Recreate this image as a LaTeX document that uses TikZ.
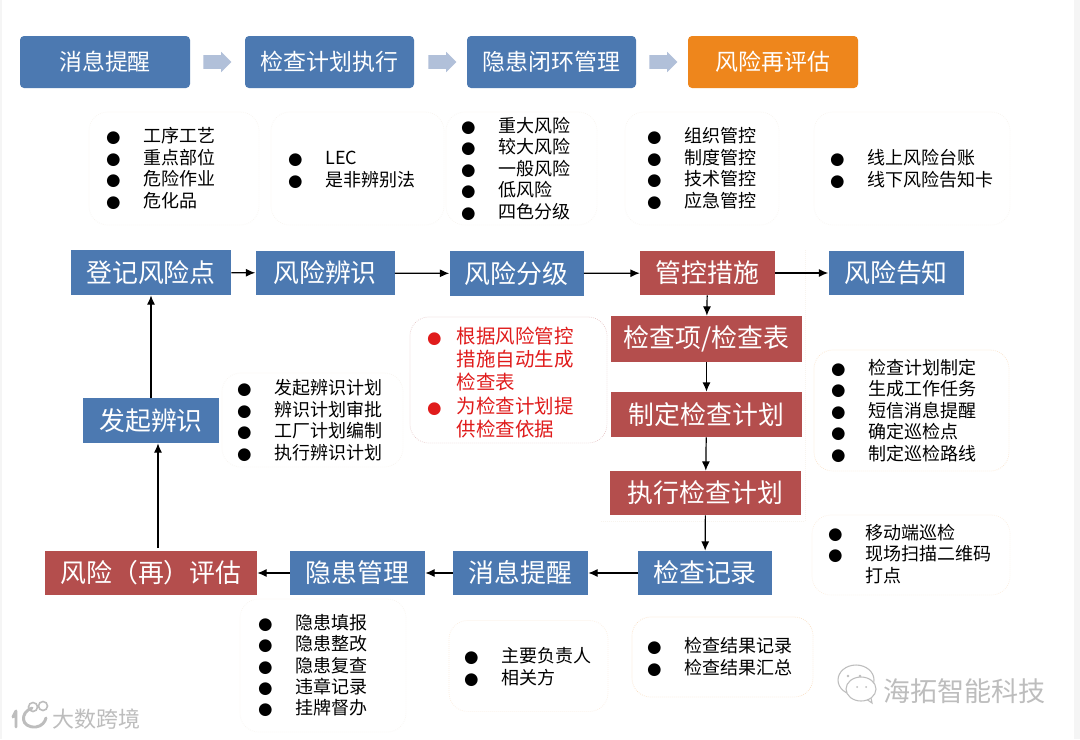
\documentclass[tikz,border=0pt]{standalone}
\usepackage{fontspec}
\setmainfont{Noto Sans CJK SC}
\newfontfamily\dotfont{DejaVu Sans}
\usetikzlibrary{shapes.arrows,arrows.meta}
\definecolor{riskblue}{HTML}{4C79B1}
\definecolor{riskred}{HTML}{B44E4D}
\definecolor{riskorange}{HTML}{EE861C}
\definecolor{blockblue}{HTML}{B1C0D9}
\definecolor{alertred}{HTML}{E01B1B}
\definecolor{paneledge}{HTML}{F8F4EE}
\definecolor{markgray}{HTML}{BDBDBD}
\newcommand{\dotitem}{\makebox[22.5pt][l]{\hspace{-5.3pt}{\dotfont\fontsize{12.5}{16}\selectfont ●}}}
\newcommand{\noitem}{\makebox[22.5pt][l]{}}
\newcommand{\reditem}{\makebox[17pt][l]{\hspace{-5.3pt}{\dotfont\fontsize{12.5}{16}\selectfont ●}}}
\newcommand{\rednoitem}{\makebox[17pt][l]{}}
\tikzset{
    size/.style 2 args={minimum width=#1*0.75pt,minimum height=#2*0.75pt},
    flowbox/.style={inner sep=0pt,text=white,font=\fontsize{19.4}{22}\selectfont},
    topbox/.style={flowbox,fill=riskblue,rounded corners=3pt,font=\fontsize{17.2}{20}\selectfont},
    bluebox/.style={flowbox,fill=riskblue},
    redbox/.style={flowbox,fill=riskred},
    panel/.style={draw=paneledge,densely dotted,line width=0.5pt,fill=white,rounded corners=14pt,inner sep=0pt},
    itemlist/.style={anchor=west,inner sep=0pt,align=left,font=\fontsize{13.5}{16.1}\selectfont},
    blockarrow/.style={single arrow,fill=blockblue,inner sep=0pt,minimum height=21pt,single arrow head extend=2.6pt,single arrow head indent=0pt},
    flowline/.style={-{Latex[length=7pt,width=6pt]},black,line width=0.9pt},
    wmark/.style={inner sep=0pt,text=markgray},
}
\begin{document}
\begin{tikzpicture}[x=0.75pt,y=-0.75pt]
    \useasboundingbox (0,0) rectangle (1080,739);
    \fill[white] (0,0) rectangle (1080,739);
    \fill[black!4] (0,0) rectangle (2,739);
    \fill[black!4] (1074,0) rectangle (1080,739);
    % top row
    \node[topbox,size={170}{52}] (topA) at (105,62) {消息提醒};
    \node[topbox,size={169}{52}] (topB) at (329.5,62) {检查计划执行};
    \node[topbox,size={169}{52}] (topC) at (551.5,62) {隐患闭环管理};
    \node[topbox,size={170}{52},fill=riskorange] (topD) at (773,62) {风险再评估};
    \node[blockarrow] (arrowA) at (214,62) {\rule{0pt}{9.75pt}};
    \node[blockarrow] (arrowB) at (439,62) {\rule{0pt}{9.75pt}};
    \node[blockarrow] (arrowC) at (660,62) {\rule{0pt}{9.75pt}};
    % faint frame
    \draw[paneledge,densely dotted,line width=0.5pt] (805,250) -- (805,521) -- (601,521);
    % panels
    \node[panel,size={170}{113}] (panelA) at (174,168.5) {};
    \node[panel,size={173}{113}] (panelB) at (357.5,168.5) {};
    \node[panel,size={151}{113}] (panelC) at (521.5,168.5) {};
    \node[panel,size={154}{113}] (panelD) at (702,168.5) {};
    \node[panel,size={196}{113}] (panelE) at (912,168.5) {};
    \node[panel,size={197}{126},draw=riskred!35] (panelF) at (508.5,380) {};
    \node[panel,size={195}{121},draw=riskorange!25] (panelG) at (911.5,410.5) {};
    \node[panel,size={198}{80},draw=riskorange!15] (panelH) at (911,555) {};
    \node[panel,size={181}{94}] (panelI) at (312.5,420) {};
    \node[panel,size={166}{133}] (panelJ) at (323,665.5) {};
    \node[panel,size={159}{91},draw=riskorange!15] (panelK) at (528.5,666) {};
    \node[panel,size={181}{80},draw=riskorange!30] (panelL) at (722.5,657) {};
    % lists
    \node[itemlist] (listA) at (113,168.5) {\dotitem 工序工艺\\\dotitem 重点部位\\\dotitem 危险作业\\\dotitem 危化品};
    \node[itemlist] (listB) at (295,170) {\dotitem LEC\\\dotitem 是非辨别法};
    \node[itemlist] (listC) at (468,168.5) {\dotitem 重大风险\\\dotitem 较大风险\\\dotitem 一般风险\\\dotitem 低风险\\\dotitem 四色分级};
    \node[itemlist] (listD) at (654,168.5) {\dotitem 组织管控\\\dotitem 制度管控\\\dotitem 技术管控\\\dotitem 应急管控};
    \node[itemlist] (listE) at (837,169) {\dotitem 线上风险台账\\\dotitem 线下风险告知卡};
    \node[itemlist,text=alertred,font=\fontsize{14.6}{17.6}\selectfont] (listF) at (434,382.5) {\reditem 根据风险管控\\\rednoitem 措施自动生成\\\rednoitem 检查表\\\reditem 为检查计划提\\\rednoitem 供检查依据};
    \node[itemlist] (listG) at (838,410.5) {\dotitem 检查计划制定\\\dotitem 生成工作任务\\\dotitem 短信消息提醒\\\dotitem 确定巡检点\\\dotitem 制定巡检路线};
    \node[itemlist] (listH) at (835,554) {\dotitem 移动端巡检\\\dotitem 现场扫描二维码\\\noitem 打点};
    \node[itemlist] (listI) at (244,420.5) {\dotitem 发起辨识计划\\\dotitem 辨识计划审批\\\dotitem 工厂计划编制\\\dotitem 执行辨识计划};
    \node[itemlist] (listJ) at (265,665.5) {\dotitem 隐患填报\\\dotitem 隐患整改\\\dotitem 隐患复查\\\dotitem 违章记录\\\dotitem 挂牌督办};
    \node[itemlist] (listK) at (471,667) {\dotitem 主要负责人\\\dotitem 相关方};
    \node[itemlist] (listL) at (654,657) {\dotitem 检查结果记录\\\dotitem 检查结果汇总};
    % flow boxes
    \node[bluebox,size={160}{45}] (register) at (151,272.5) {登记风险点};
    \node[bluebox,size={139}{44}] (identify) at (325,273) {风险辨识};
    \node[bluebox,size={134}{45}] (grade) at (516.5,273.5) {风险分级};
    \node[redbox,size={135}{44}] (control) at (707.5,273) {管控措施};
    \node[bluebox,size={135}{44}] (inform) at (896,273) {风险告知};
    \node[redbox,size={191}{46}] (checklist) at (706.5,339) {检查项/检查表};
    \node[redbox,size={191}{45}] (plan) at (706.5,414.5) {制定检查计划};
    \node[redbox,size={191}{44}] (execute) at (705.5,493) {执行检查计划};
    \node[bluebox,size={134}{44}] (record) at (705,573) {检查记录};
    \node[bluebox,size={135}{44}] (notify) at (520.5,573) {消息提醒};
    \node[bluebox,size={135}{44}] (hazard) at (357.5,573) {隐患管理};
    \node[redbox,size={212}{44}] (assess) at (151,573) {风险（再）评估};
    \node[bluebox,size={136}{45}] (launch) at (151,420.5) {发起辨识};
    % connectors
    \draw[flowline] (register) -- (identify);
    \draw[flowline] (identify) -- (grade);
    \draw[flowline] (grade) -- (control);
    \draw[flowline] (control) -- (inform);
    \draw[flowline] (control) -- (checklist);
    \draw[flowline] (checklist) -- (plan);
    \draw[flowline] (plan) -- (execute);
    \draw[flowline] (execute) -- (record);
    \draw[flowline] (record) -- (notify);
    \draw[flowline] (notify) -- (hazard);
    \draw[flowline] (hazard) -- (assess);
    \coordinate (assessTop) at (158,548);
    \draw[flowline] (assessTop) -- (assessTop |- launch.south);
    \draw[flowline] (launch) -- (register);
    % watermarks
    \node[wmark,anchor=west,font=\fontsize{16.5}{20}\selectfont] (markA) at (52,719) {大数跨境};
    \node[wmark,anchor=west,font=\fontsize{20.3}{24}\selectfont] (markB) at (883,691) {海拓智能科技};
    \draw[markgray,line width=2.2pt,line cap=round] (16,711) -- (13,717) (16,711) -- (16,727);
    \draw[markgray,line width=2.2pt,line cap=round] (32,708) .. controls (20,712) and (20,728) .. (36,727) .. controls (42,726) and (45,722) .. (46,718);
    \draw[markgray,line width=1.2pt] (33,707) circle (4.5) (43,706) circle (4.5);
    \draw[markgray,line width=0.8pt,fill=white] (856,680) ellipse (18 and 15);
    \draw[markgray,line width=0.8pt,fill=white] (862,696) -- (872,703) -- (871,698);
    \draw[markgray,line width=0.8pt,fill=white] (861,689) ellipse (15 and 12);
    \fill[markgray] (848,676) circle (1.3) (860,676) circle (1.3) (857,687) circle (1) (866,687) circle (1);
\end{tikzpicture}
\end{document}
